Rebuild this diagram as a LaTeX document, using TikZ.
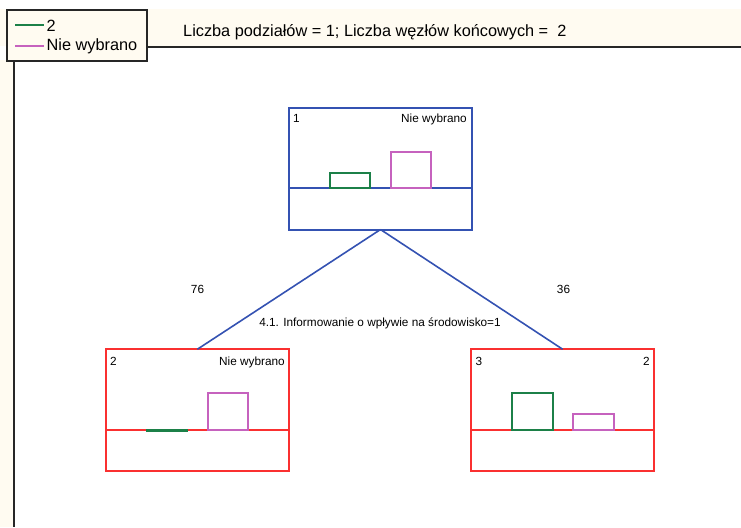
\documentclass[tikz,border=0pt]{standalone}
\usepackage{fontspec}
\setmainfont{Liberation Sans}
\definecolor{cream}{RGB}{255,251,241}
\definecolor{treeblue}{RGB}{52,82,178}
\definecolor{leafred}{RGB}{250,48,48}
\definecolor{bargreen}{RGB}{28,128,72}
\definecolor{barpink}{RGB}{198,98,190}
\begin{document}
\begin{tikzpicture}[x=1pt,y=-1pt,
  treebox/.style={draw=treeblue,line width=2pt,minimum width=183pt,minimum height=122pt,inner sep=0pt,outer sep=0pt},
  leafbox/.style={treebox,draw=leafred},
  edge/.style={draw=treeblue,line width=1.6pt},
  greenbar/.style={draw=bargreen,line width=2pt},
  pinkbar/.style={draw=barpink,line width=2pt},
  boxtxt/.style={font=\fontsize{11.8}{13}\selectfont,inner sep=0pt,anchor=base},
  lbl/.style={font=\fontsize{11.8}{14}\selectfont,inner sep=0pt},
  hdr/.style={font=\fontsize{16.3}{19}\selectfont,inner sep=0pt}]
\useasboundingbox (0,0) rectangle (741,527);

% header band, left margin strip and frame lines
\fill[cream] (0,9) rectangle (741,46);
\fill[cream] (0,60) rectangle (13,527);
\draw[line width=2.2pt,black!85] (147,47) -- (741,47);
\draw[line width=2.2pt,black!85] (14,60) -- (14,527);
\node[hdr,anchor=base west] (title) at (183,36.7) {Liczba podziałów = 1; Liczba węzłów końcowych =~~2};

% legend
\node[draw=black!85,fill=cream,line width=1.8pt,minimum width=140pt,minimum height=51pt,inner sep=0pt] (legend) at (77,35.3) {};
\draw[greenbar,line width=1.5pt] (15,25) -- (44,25);
\draw[pinkbar,line width=1.5pt] (15,46) -- (44,46);
\node[hdr,anchor=west] (leg1) at (46.5,26) {2};
\node[hdr,anchor=west] (leg2) at (46.5,46.5) {Nie wybrano};

% tree nodes
\node[treebox] (n1) at (380.5,168.5) {};
\node[leafbox] (n2) at (197.3,410.3) {};
\node[leafbox] (n3) at (562.7,410.3) {};

% divider lines inside the nodes
\draw[treeblue,line width=2pt] (n1.west |- 0,188.3) -- (n1.east |- 0,188.3);
\draw[leafred,line width=2pt] (n2.west |- 0,430.3) -- (n2.east |- 0,430.3);
\draw[leafred,line width=2pt] (n3.west |- 0,430.3) -- (n3.east |- 0,430.3);

% node labels
\node[boxtxt,anchor=base west] (n1id) at (293,122.5) {1};
\node[boxtxt,anchor=base east] (n1cat) at (467,122.5) {Nie wybrano};
\node[boxtxt,anchor=base west] (n2id) at (110,365.5) {2};
\node[boxtxt,anchor=base east] (n2cat) at (285,365.5) {Nie wybrano};
\node[boxtxt,anchor=base west] (n3id) at (475.5,365.5) {3};
\node[boxtxt,anchor=base east] (n3cat) at (650,365.5) {2};

% bars
\draw[greenbar] (329.5,188.3) rectangle (370,173.3);
\draw[pinkbar] (390.5,188.3) rectangle (431,151.7);
\draw[greenbar,line width=2.4pt] (146,430.3) -- (187.7,430.3);
\draw[pinkbar] (207.5,430.3) rectangle (248.3,393.3);
\draw[greenbar] (512,430.3) rectangle (553,393.3);
\draw[pinkbar] (573,430.3) rectangle (613.7,414.3);

% split connectors
\draw[edge] (n1.south) -- (n2.north);
\draw[edge] (n1.south) -- (n3.north);
\node[lbl] (cnt2) at (197.5,289) {76};
\node[lbl] (cnt3) at (563.5,289) {36};
\node[lbl] (split) at (380,323.5) {4.1. Informowanie o wpływie na środowisko=1};
\end{tikzpicture}
\end{document}
